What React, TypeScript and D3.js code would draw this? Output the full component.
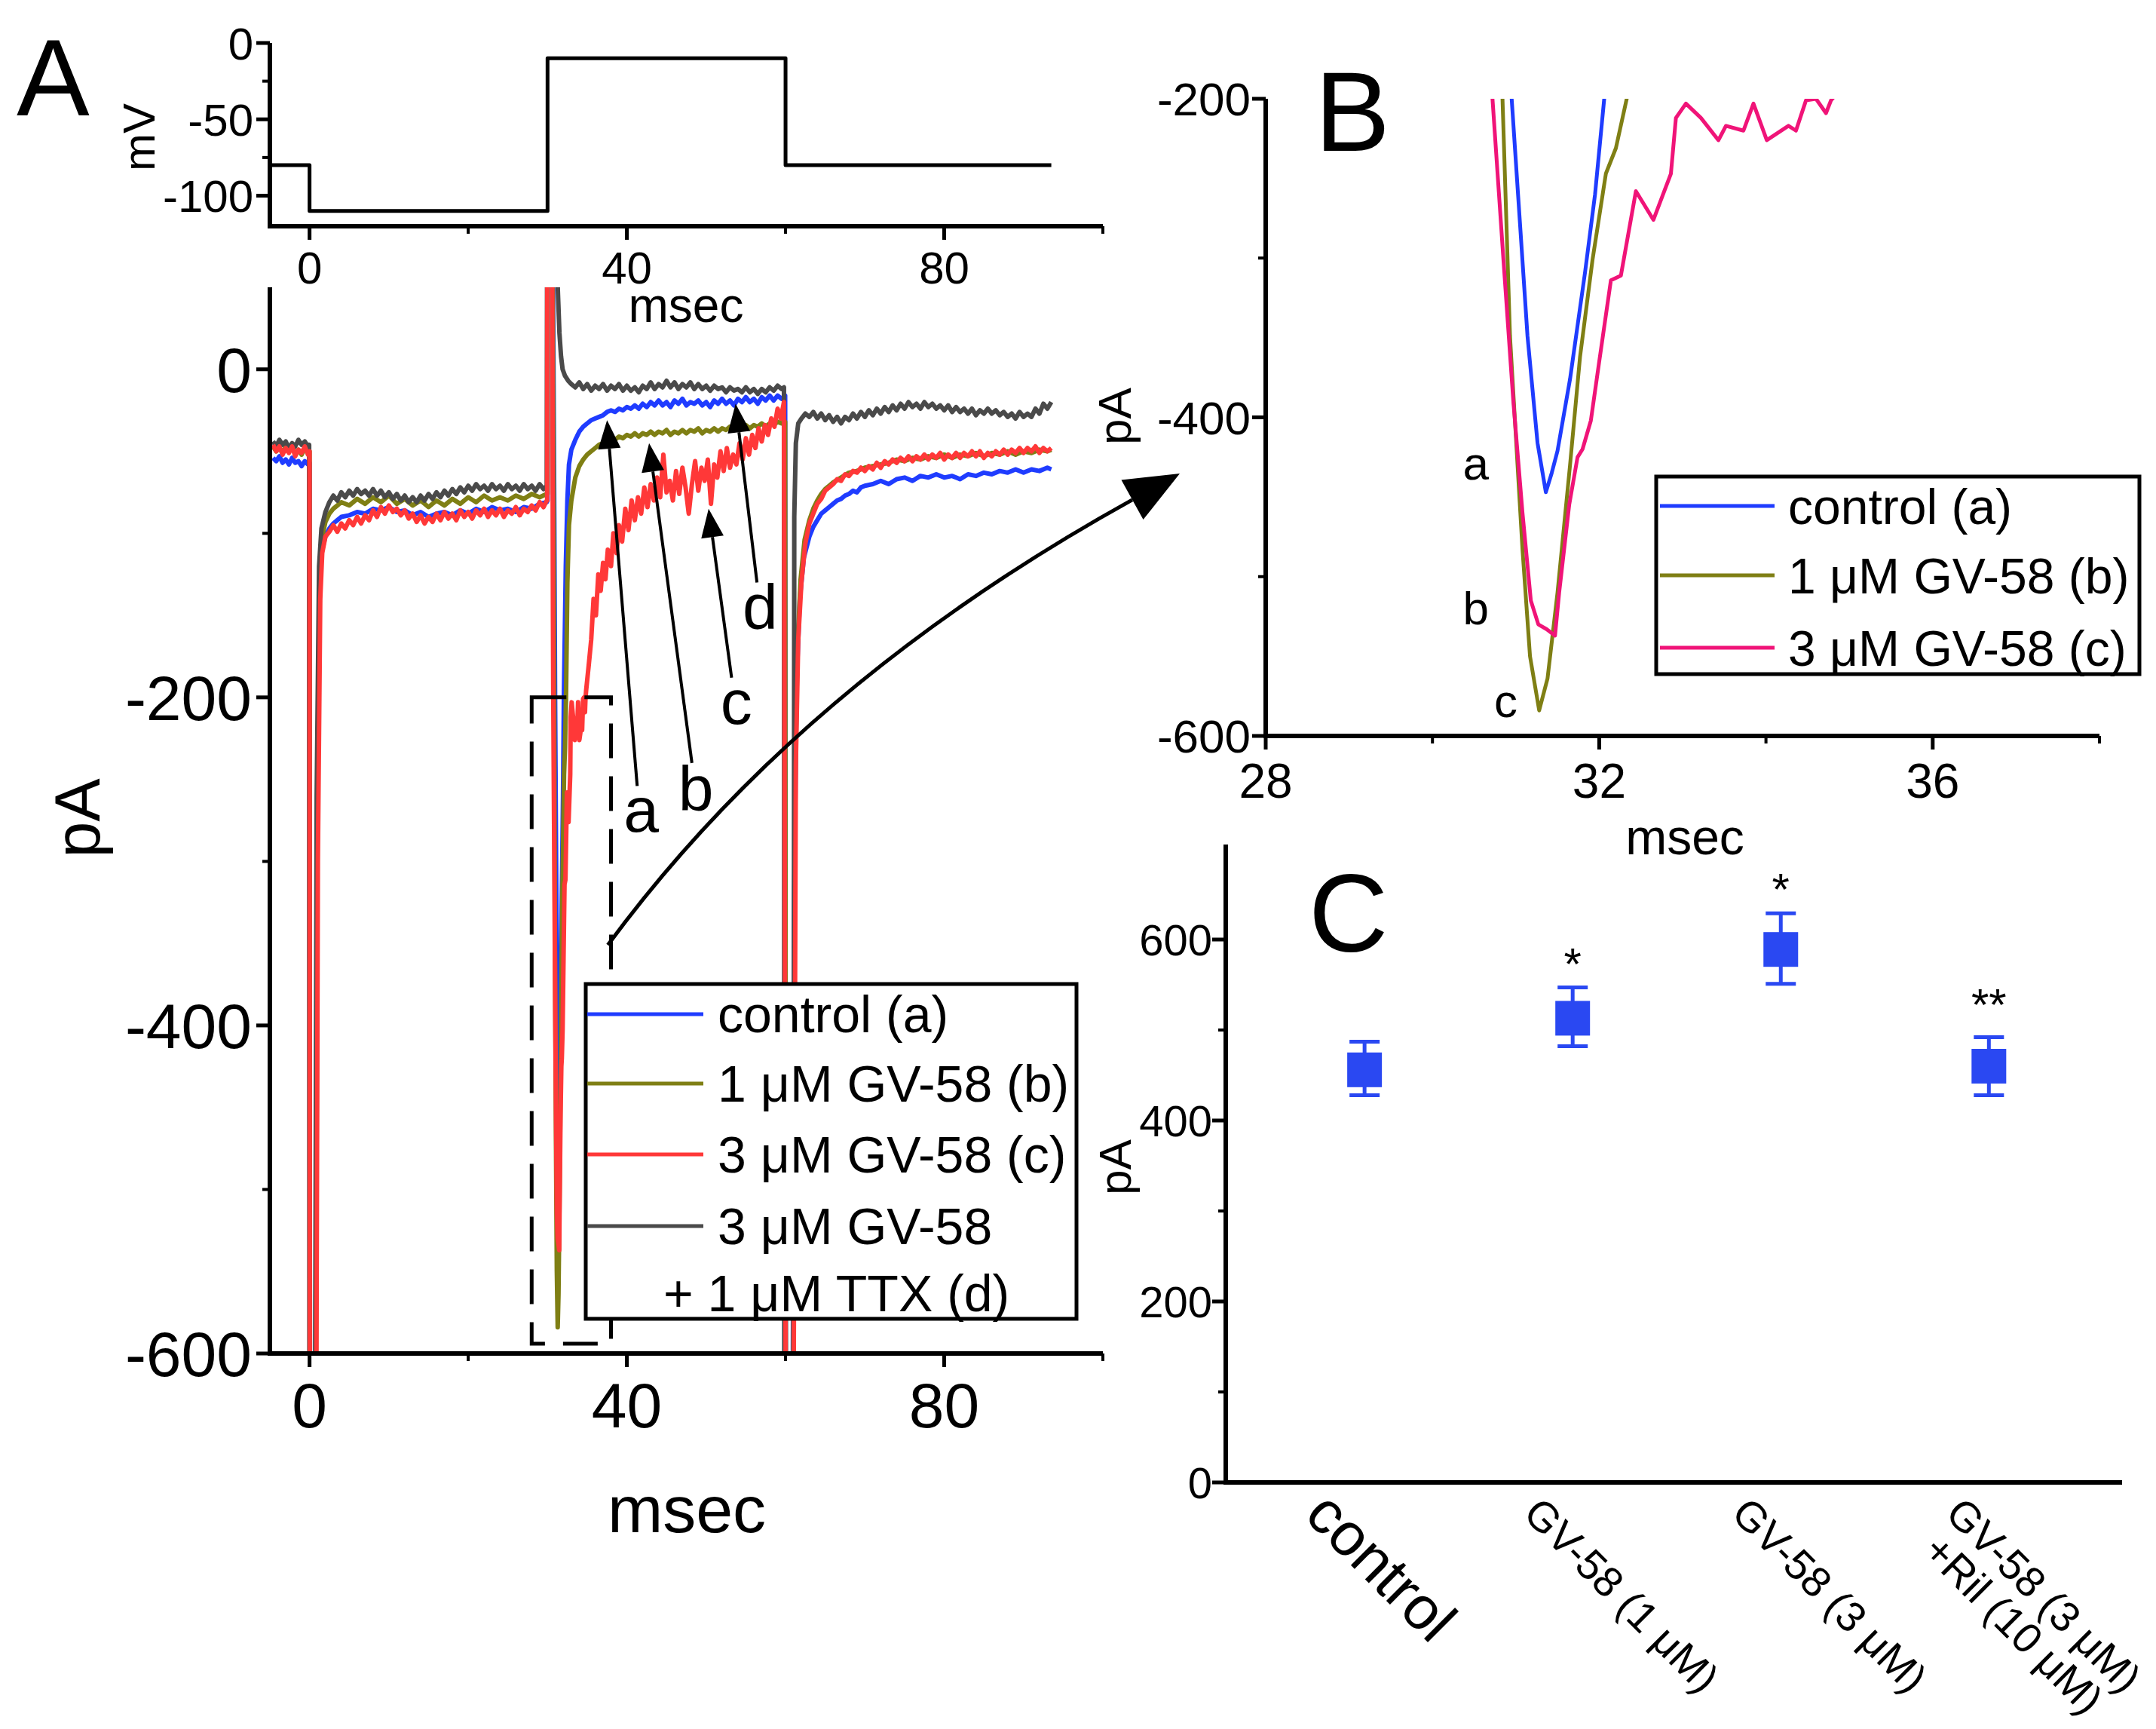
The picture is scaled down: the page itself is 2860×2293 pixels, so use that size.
import * as d3 from 'd3'

type Pt = [number, number]

// ---------- voltage protocol (top of A) ----------
const protocolTime = [-5, 0, 0, 30, 30, 60, 60, 93.5]
const protocolMv = [-80, -80, -110, -110, -10, -10, -80, -80]

// ---------- current traces (msec, pA) ----------
// control (a)
const controlPre: Pt[] = [[-4.6,-54],[-4.2,-56],[-3.8,-53],[-3.4,-57],[-3,-55],[-2.6,-58],[-2.2,-54],[-1.8,-57],[-1.4,-56],[-1,-59],[-0.6,-56],[-0.2,-58],[0,-57]]
const controlHyp: Pt[] = [[0.05,-720],[0.7,-720],[0.95,-300],[1.2,-150],[1.5,-112],[2,-102],[2.5,-97],[3,-94],[3.5,-92],[4,-90],[5,-89],[6,-87],[7,-88],[8,-85],[9,-86],[10,-84],[11,-87],[12,-86],[13,-89],[14,-87],[15,-90],[16,-88],[17,-87],[18,-89],[19,-86],[20,-88],[21,-85],[22,-87],[23,-84],[24,-86],[25,-85],[26,-87],[27,-84],[28,-85],[29,-82],[29.9,-81]]
const controlOn: Pt[] = [[30.0,-80],[30.08,400],[30.45,400],[30.7,50],[30.85,-90]]
const controlPeak: Pt[] = [[30.95,-200],[31.14,-349],[31.26,-416],[31.36,-447],[31.43,-435],[31.5,-421],[31.65,-376],[31.83,-309],[31.95,-260],[32.06,-200]]
const controlStep: Pt[] = [[32.3,-120],[32.5,-80],[32.7,-58],[33,-49],[33.5,-43],[34,-38],[34.5,-35],[35,-33],[35.5,-31],[36,-30],[36.5,-29],[37,-28],[37.5,-26],[38,-25],[38.5,-26],[39,-24],[39.5,-25],[40,-23],[40.5,-24],[41,-22],[41.5,-24],[42,-21],[42.5,-23],[43,-20],[43.5,-22],[44,-19],[44.5,-22],[45,-20],[45.5,-23],[46,-19],[46.5,-21],[47,-18],[47.5,-22],[48,-20],[48.5,-21],[49,-19],[49.5,-22],[50,-20],[50.5,-23],[51,-19],[51.5,-21],[52,-18],[52.5,-21],[53,-19],[53.5,-22],[54,-18],[54.5,-20],[55,-17],[55.5,-20],[56,-18],[56.5,-21],[57,-17],[57.5,-19],[58,-16],[58.5,-19],[59,-16],[59.5,-18],[59.95,-16]]
const controlTail: Pt[] = [[60.05,-720],[60.85,-720],[61.1,-320],[61.4,-190],[61.8,-140],[62.3,-115],[63,-102],[63.5,-96],[64,-92],[64.5,-88],[65,-86],[65.5,-84],[66,-82],[66.5,-80],[67,-79],[67.5,-77],[68,-76],[68.5,-74],[69,-75],[69.5,-72],[70,-71],[71,-70],[72,-68],[73,-70],[74,-67],[75,-66],[76,-68],[77,-65],[78,-66],[79,-64],[80,-66],[81,-65],[82,-67],[83,-64],[84,-65],[85,-63],[86,-64],[87,-62],[88,-63],[89,-61],[90,-63],[91,-61],[92,-62],[93,-60],[93.5,-61]]

// 1 uM GV-58 (b)
const gv1Pre: Pt[] = [[-4.6,-47],[-4.2,-50],[-3.8,-48],[-3.4,-51],[-3,-47],[-2.6,-50],[-2.2,-48],[-1.8,-51],[-1.4,-49],[-1,-52],[-0.6,-48],[-0.2,-50],[0,-50]]
const gv1Hyp: Pt[] = [[0.05,-720],[0.75,-720],[1.0,-280],[1.3,-130],[1.6,-102],[2,-93],[2.5,-88],[3,-85],[3.5,-83],[4,-81],[5,-83],[6,-79],[7,-82],[8,-78],[9,-81],[10,-77],[11,-82],[12,-79],[13,-83],[14,-80],[15,-84],[16,-80],[17,-83],[18,-79],[19,-82],[20,-78],[21,-81],[22,-77],[23,-80],[24,-78],[25,-80],[26,-77],[27,-79],[28,-76],[29,-78],[29.9,-76]]
const gv1On: Pt[] = [[30.0,-76],[30.08,400],[30.45,400],[30.65,60],[30.78,-100]]
const gv1Peak: Pt[] = [[30.84,-200],[30.93,-349],[31.08,-483],[31.17,-550],[31.28,-584],[31.38,-564],[31.5,-510],[31.65,-430],[31.77,-362],[31.92,-301],[32.08,-247],[32.2,-231],[32.33,-200]]
const gv1Step: Pt[] = [[32.5,-130],[32.7,-95],[33,-80],[33.5,-66],[34,-59],[34.5,-55],[35,-52],[35.5,-50],[36,-48],[36.5,-46],[37,-45],[37.5,-43],[38,-42],[38.5,-43],[39,-41],[39.5,-42],[40,-40],[40.5,-41],[41,-39],[41.5,-41],[42,-39],[42.5,-40],[43,-38],[43.5,-40],[44,-38],[44.5,-39],[45,-37],[45.5,-40],[46,-38],[46.5,-39],[47,-37],[47.5,-39],[48,-37],[48.5,-38],[49,-36],[49.5,-39],[50,-37],[50.5,-38],[51,-36],[51.5,-38],[52,-36],[52.5,-37],[53,-35],[53.5,-37],[54,-35],[54.5,-36],[55,-34],[55.5,-36],[56,-34],[56.5,-35],[57,-33],[57.5,-35],[58,-33],[58.5,-34],[59,-32],[59.5,-33],[59.95,-32]]
const gv1Tail: Pt[] = [[60.05,-720],[60.9,-720],[61.2,-260],[61.5,-170],[61.9,-128],[62.4,-104],[63,-92],[63.5,-85],[64,-80],[64.5,-76],[65,-73],[65.5,-71],[66,-69],[67,-66],[68,-63],[69,-62],[70,-60],[71,-59],[72,-58],[73,-57],[74,-55],[75,-56],[76,-54],[77,-55],[78,-53],[79,-54],[80,-52],[81,-54],[82,-52],[83,-53],[84,-51],[85,-53],[86,-51],[87,-52],[88,-50],[89,-52],[90,-50],[91,-51],[92,-49],[93,-50],[93.5,-49]]

// 3 uM GV-58 (c)
const gv3Pre: Pt[] = [[-4.6,-46],[-4.2,-50],[-3.8,-47],[-3.4,-52],[-3,-48],[-2.6,-51],[-2.2,-47],[-1.8,-53],[-1.4,-49],[-1,-51],[-0.6,-47],[-0.2,-52],[0,-50]]
const gv3Hyp: Pt[] = [[0.05,-720],[0.8,-720],[1.05,-300],[1.35,-140],[1.6,-112],[2,-102],[2.5,-99],[3,-95],[3.5,-99],[4,-94],[4.5,-97],[5,-92],[5.5,-95],[6,-90],[6.5,-94],[7,-89],[7.5,-92],[8,-86],[8.5,-90],[9,-84],[9.5,-88],[10,-83],[10.5,-87],[11,-85],[11.5,-89],[12,-86],[12.5,-91],[13,-88],[13.5,-93],[14,-89],[14.5,-94],[15,-90],[15.5,-93],[16,-88],[16.5,-92],[17,-87],[17.5,-91],[18,-88],[18.5,-92],[19,-86],[19.5,-90],[20,-87],[20.5,-91],[21,-86],[21.5,-89],[22,-85],[22.5,-90],[23,-86],[23.5,-89],[24,-85],[24.5,-90],[25,-86],[25.5,-88],[26,-84],[26.5,-89],[27,-85],[27.5,-87],[28,-83],[28.5,-86],[29,-81],[29.5,-84],[29.9,-80]]
const gv3On: Pt[] = [[29.95,-80],[30.0,400],[30.4,400],[30.6,40],[30.68,-150]]
const gv3Peak: Pt[] = [[30.72,-200],[30.85,-300],[30.97,-390],[31.08,-460],[31.18,-515],[31.27,-530],[31.37,-533],[31.47,-537],[31.52,-510],[31.64,-455],[31.74,-425],[31.8,-420],[31.9,-402],[32.0,-365],[32.14,-314],[32.26,-311],[32.44,-258],[32.65,-276],[32.86,-247],[32.92,-212],[33.04,-203],[33.22,-212],[33.43,-226],[33.52,-217],[33.73,-220],[33.85,-203],[34.01,-226],[34.27,-217],[34.36,-220],[34.48,-201],[34.6,-200],[34.72,-209],[34.78,-201],[34.86,-196]]
const gv3Step: Pt[] = [[35.2,-180],[35.5,-165],[35.8,-140],[36.1,-150],[36.4,-125],[36.7,-135],[37,-118],[37.3,-128],[37.6,-110],[38,-120],[38.3,-100],[38.7,-112],[39,-95],[39.4,-105],[39.8,-85],[40.2,-98],[40.6,-80],[41,-92],[41.4,-78],[41.8,-88],[42.2,-72],[42.6,-84],[43,-70],[43.4,-80],[43.8,-66],[44.2,-78],[44.6,-52],[45,-75],[45.4,-68],[45.8,-80],[46.2,-62],[46.6,-76],[47,-60],[47.4,-72],[47.8,-88],[48.2,-70],[48.6,-56],[49,-74],[49.4,-60],[49.8,-68],[50.2,-55],[50.6,-82],[51,-58],[51.4,-66],[51.8,-50],[52.2,-62],[52.6,-48],[53,-60],[53.4,-52],[53.8,-58],[54.2,-45],[54.6,-55],[55,-42],[55.4,-52],[55.8,-40],[56.2,-48],[56.6,-36],[57,-44],[57.4,-34],[57.8,-40],[58.2,-30],[58.6,-35],[59,-24],[59.4,-30],[59.8,-20]]
const gv3Tail: Pt[] = [[60.05,-720],[60.95,-720],[61.3,-240],[61.6,-165],[62,-130],[62.5,-106],[63,-94],[63.5,-88],[64,-82],[64.5,-79],[65,-74],[65.5,-72],[66,-70],[66.5,-67],[67,-68],[67.5,-64],[68,-65],[68.5,-62],[69,-63],[69.5,-60],[70,-62],[70.5,-59],[71,-61],[71.5,-57],[72,-60],[72.5,-56],[73,-58],[73.5,-55],[74,-57],[74.5,-54],[75,-56],[75.5,-53],[76,-56],[76.5,-53],[77,-55],[77.5,-52],[78,-55],[78.5,-52],[79,-54],[79.5,-51],[80,-55],[80.5,-52],[81,-54],[81.5,-51],[82,-54],[82.5,-51],[83,-53],[83.5,-50],[84,-53],[84.5,-50],[85,-54],[85.5,-51],[86,-53],[86.5,-50],[87,-52],[87.5,-49],[88,-52],[88.5,-49],[89,-51],[89.5,-48],[90,-51],[90.5,-48],[91,-50],[91.5,-47],[92,-51],[92.5,-48],[93,-50],[93.5,-48]]

// 3 uM GV-58 + 1 uM TTX (d)
const ttxPre: Pt[] = [[-4.6,-44],[-4.2,-47],[-3.8,-43],[-3.4,-46],[-3,-44],[-2.6,-48],[-2.2,-45],[-1.8,-47],[-1.4,-43],[-1,-46],[-0.6,-44],[-0.2,-47],[-0.05,-46]]
const ttxHyp: Pt[] = [[-0.02,-720],[0.65,-720],[0.9,-260],[1.2,-120],[1.5,-97],[2,-87],[2.5,-81],[3,-77],[3.5,-80],[4,-75],[4.5,-78],[5,-74],[5.5,-77],[6,-73],[6.5,-76],[7,-74],[7.5,-77],[8,-73],[8.5,-77],[9,-74],[9.5,-78],[10,-75],[10.5,-79],[11,-76],[11.5,-80],[12,-77],[12.5,-81],[13,-78],[13.5,-81],[14,-77],[14.5,-80],[15,-76],[15.5,-79],[16,-75],[16.5,-78],[17,-74],[17.5,-77],[18,-73],[18.5,-76],[19,-72],[19.5,-75],[20,-71],[20.5,-74],[21,-70],[21.5,-73],[22,-71],[22.5,-74],[23,-70],[23.5,-73],[24,-71],[24.5,-74],[25,-70],[25.5,-73],[26,-71],[26.5,-74],[27,-70],[27.5,-73],[28,-71],[28.5,-74],[29,-70],[29.5,-73],[29.9,-71]]
const ttxStep: Pt[] = [[30.05,400],[30.9,400],[31.1,120],[31.3,48],[31.5,22],[31.7,8],[31.9,0],[32.2,-4],[32.6,-7],[33,-9],[33.5,-11],[34,-8],[34.5,-12],[35,-9],[35.5,-13],[36,-10],[36.5,-12],[37,-9],[37.5,-13],[38,-10],[38.5,-12],[39,-9],[39.5,-13],[40,-10],[40.5,-13],[41,-11],[41.5,-14],[42,-10],[42.5,-12],[43,-8],[43.5,-12],[44,-9],[44.5,-11],[45,-7],[45.5,-11],[46,-8],[46.5,-12],[47,-9],[47.5,-11],[48,-8],[48.5,-12],[49,-9],[49.5,-12],[50,-10],[50.5,-13],[51,-10],[51.5,-12],[52,-11],[52.5,-14],[53,-11],[53.5,-13],[54,-12],[54.5,-14],[55,-11],[55.5,-14],[56,-12],[56.5,-15],[57,-12],[57.5,-14],[58,-11],[58.5,-13],[59,-10],[59.5,-12],[59.8,-11]]
const ttxTail: Pt[] = [[59.85,-720],[61.0,-720],[61.1,-90],[61.3,-45],[61.6,-33],[62,-30],[62.5,-27],[63,-29],[63.5,-26],[64,-30],[64.5,-27],[65,-31],[65.5,-28],[66,-32],[66.5,-29],[67,-33],[67.5,-29],[68,-31],[68.5,-27],[69,-30],[69.5,-26],[70,-29],[70.5,-25],[71,-28],[71.5,-24],[72,-27],[72.5,-23],[73,-26],[73.5,-22],[74,-25],[74.5,-21],[75,-24],[75.5,-20],[76,-23],[76.5,-21],[77,-24],[77.5,-20],[78,-23],[78.5,-21],[79,-24],[79.5,-22],[80,-25],[80.5,-22],[81,-26],[81.5,-23],[82,-26],[82.5,-24],[83,-27],[83.5,-24],[84,-28],[84.5,-25],[85,-27],[85.5,-24],[86,-27],[86.5,-25],[87,-28],[87.5,-26],[88,-29],[88.5,-27],[89,-30],[89.5,-26],[90,-29],[90.5,-27],[91,-29],[91.5,-24],[92,-27],[92.5,-21],[93,-24],[93.5,-20]]

// ---------- annotations on A (msec, pA) ----------
const arrowLetters = ['a', 'b', 'c', 'd']
const arrowTips: Pt[] = [[37.5, -31], [42.8, -45], [50.3, -85], [53.7, -21]]
const arrowTails: Pt[] = [[41.3, -254], [48.2, -240], [53.2, -188], [56.4, -130]]
const letterSpots: Pt[] = [[41.8, -272], [48.7, -259], [53.8, -206], [56.8, -148]]
const zoomBox = { t0: 28, t1: 38, i0: -594, i1: -200 }

// ---------- panel B letters ----------
const peakLetters = ['a', 'b', 'c']
const peakLetterSpots: Pt[] = [[30.52, -439], [30.52, -530], [30.88, -588]]

// ---------- legends ----------
const legendA = ['control (a)', '1 μM GV-58 (b)', '3 μM GV-58 (c)', '3 μM GV-58', '+ 1 μM TTX (d)']
const legendB = ['control (a)', '1 μM GV-58 (b)', '3 μM GV-58 (c)']

// ---------- panel C ----------
const groups = ['control', 'GV-58 (1 μM)', 'GV-58 (3 μM)', 'GV-58 (3 μM)|+Ril (10 μM)']
const peakMean = [456, 513, 589, 460]
const peakHigh = [487, 547, 629, 492]
const peakLow = [428, 482, 551, 428]
const starText = ['', '*', '*', '**']
const starLevel = [0, 556, 638, 511]

const BLUE = '#1f3cff'
const OLIVE = '#7f7f14'
const RED = '#ff3838'
const GRAY = '#4a4a4a'
const PINK = '#f01478'
const CBLUE = '#2a48f2'
const FONT = 'Liberation Sans, Arial, Helvetica, sans-serif'

const controlTrace = [...controlPre, ...controlHyp, ...controlOn, ...controlPeak, ...controlStep, ...controlTail]
const gv1Trace = [...gv1Pre, ...gv1Hyp, ...gv1On, ...gv1Peak, ...gv1Step, ...gv1Tail]
const gv3Trace = [...gv3Pre, ...gv3Hyp, ...gv3On, ...gv3Peak, ...gv3Step, ...gv3Tail]
const ttxTrace = [...ttxPre, ...ttxHyp, ...ttxStep, ...ttxTail]

function Trace({ data, x, y, color, width = 5, clip }: {
  data: Pt[]
  x: d3.ScaleLinear<number, number>
  y: d3.ScaleLinear<number, number>
  color: string
  width?: number
  clip?: string
}) {
  const line = d3.line<Pt>().x((d) => x(d[0])).y((d) => y(d[1]))
  return (
    <path
      d={line(data) ?? ''}
      fill="none"
      stroke={color}
      strokeWidth={width}
      strokeLinejoin="round"
      clipPath={clip ? `url(#${clip})` : undefined}
    />
  )
}

function LeftAxis({ y, x0, top, major, minor, fontSize, gap = 22 }: {
  y: d3.ScaleLinear<number, number>
  x0: number
  top: number
  major: number[]
  minor: number[]
  fontSize: number
  gap?: number
}) {
  const [lo] = y.domain()
  return (
    <g>
      <line x1={x0} x2={x0} y1={y(top)} y2={y(lo) + 3} stroke="#000" strokeWidth={6} />
      {major.map((v) => (
        <g key={`M${v}`}>
          <line x1={x0 - 18} x2={x0} y1={y(v)} y2={y(v)} stroke="#000" strokeWidth={5} />
          <text x={x0 - gap} y={y(v)} dy="0.36em" textAnchor="end" fontSize={fontSize}>{v}</text>
        </g>
      ))}
      {minor.map((v) => (
        <line key={`m${v}`} x1={x0 - 10} x2={x0} y1={y(v)} y2={y(v)} stroke="#000" strokeWidth={4} />
      ))}
    </g>
  )
}

function BottomAxis({ x, y0, major, minor, fontSize, labelY }: {
  x: d3.ScaleLinear<number, number>
  y0: number
  major: number[]
  minor: number[]
  fontSize: number
  labelY: number
}) {
  const [a, b] = x.domain()
  return (
    <g>
      <line x1={x(a) - 3} x2={x(b)} y1={y0} y2={y0} stroke="#000" strokeWidth={6} />
      {major.map((v) => (
        <g key={`M${v}`}>
          <line x1={x(v)} x2={x(v)} y1={y0} y2={y0 + 18} stroke="#000" strokeWidth={5} />
          <text x={x(v)} y={labelY} textAnchor="middle" fontSize={fontSize}>{v}</text>
        </g>
      ))}
      {minor.map((v) => (
        <line key={`m${v}`} x1={x(v)} x2={x(v)} y1={y0} y2={y0 + 10} stroke="#000" strokeWidth={4} />
      ))}
    </g>
  )
}

function Arrow({ x1, y1, x2, y2, head = 38, half = 15, width = 4 }: {
  x1: number; y1: number; x2: number; y2: number; head?: number; half?: number; width?: number
}) {
  const dx = x2 - x1
  const dy = y2 - y1
  const len = Math.hypot(dx, dy)
  const ux = dx / len
  const uy = dy / len
  const bx = x2 - ux * head
  const by = y2 - uy * head
  const pts = [
    [x2, y2],
    [bx - uy * half, by + ux * half],
    [bx + uy * half, by - ux * half],
  ]
  return (
    <g>
      <line x1={x1} y1={y1} x2={bx} y2={by} stroke="#000" strokeWidth={width} />
      <polygon points={pts.map((p) => p.join(',')).join(' ')} fill="#000" />
    </g>
  )
}

export default function App() {
  const width = 2860
  const height = 2293

  // panel A
  const xA = d3.scaleLinear().domain([-5, 100]).range([358, 1463])
  const yTop = d3.scaleLinear().domain([-120, 0]).range([300, 57])
  const yA = d3.scaleLinear().domain([-600, 50]).range([1795, 381])
  // panel B
  const xB = d3.scaleLinear().domain([28, 38]).range([1679, 2785])
  const yB = d3.scaleLinear().domain([-600, -200]).range([976, 131])
  // panel C
  const xC = d3.scaleLinear().domain([0.333, 4.64]).range([1626, 2815])
  const yC = d3.scaleLinear().domain([0, 700]).range([1966, 1126])

  const protocol: Pt[] = protocolTime.map((t, i) => [t, protocolMv[i]])

  // curved arrow from the dashed box to panel B
  const cStart = { x: xA(37.6), y: yA(-351) }
  const cCtrl = { x: 1061, y: 907 }
  const cTip = { x: 1565, y: 628 }
  const cdx = cTip.x - cCtrl.x
  const cdy = cTip.y - cCtrl.y
  const cl = Math.hypot(cdx, cdy)
  const cux = cdx / cl
  const cuy = cdy / cl
  const cBase = { x: cTip.x - cux * 72, y: cTip.y - cuy * 72 }
  const cHead = [
    [cTip.x, cTip.y],
    [cBase.x - cuy * 30, cBase.y + cux * 30],
    [cBase.x + cuy * 30, cBase.y - cux * 30],
  ]

  const legendColorsA = [BLUE, OLIVE, RED, GRAY]
  const legendRowsA = [1345, 1437, 1531, 1626, 1715]
  const legendColorsB = [BLUE, OLIVE, PINK]
  const legendRowsB = [671, 763, 859]

  return (
    <>
      <style>{'body{margin:0;background:#fff}'}</style>
      <svg width={width} height={height} viewBox={`0 0 ${width} ${height}`} style={{ display: 'block' }} fontFamily={FONT}>
        <defs>
          <clipPath id="clipA">
            <rect x={xA(-5)} y={yA(50)} width={xA(100) - xA(-5)} height={yA(-600) - yA(50)} />
          </clipPath>
          <clipPath id="clipB">
            <rect x={xB(28)} y={yB(-200)} width={xB(38) - xB(28)} height={yB(-600) - yB(-200)} />
          </clipPath>
        </defs>
        <rect width={width} height={height} fill="#fff" />

        {/* ---------------- Panel A: voltage protocol ---------------- */}
        <text x={22} y={153} fontSize={145}>A</text>
        <Trace data={protocol} x={xA} y={yTop} color="#000" width={5} />
        <LeftAxis y={yTop} x0={xA(-5)} top={0} major={[0, -50, -100]} minor={[-25, -75]} fontSize={60} />
        <BottomAxis x={xA} y0={yTop(-120)} major={[0, 40, 80]} minor={[20, 60, 100]} fontSize={60} labelY={376} />
        <text transform={`translate(205,182) rotate(-90)`} textAnchor="middle" fontSize={60}>mV</text>
        <text x={910} y={427} textAnchor="middle" fontSize={64}>msec</text>

        {/* ---------------- Panel A: currents ---------------- */}
        <Trace data={controlTrace} x={xA} y={yA} color={BLUE} width={6} clip="clipA" />
        <Trace data={gv1Trace} x={xA} y={yA} color={OLIVE} width={6} clip="clipA" />
        <Trace data={ttxTrace} x={xA} y={yA} color={GRAY} width={6} clip="clipA" />
        <Trace data={gv3Trace} x={xA} y={yA} color={RED} width={6} clip="clipA" />

        <LeftAxis y={yA} x0={xA(-5)} top={50} major={[0, -200, -400, -600]} minor={[-100, -300, -500]} fontSize={84} gap={24} />
        <BottomAxis x={xA} y0={yA(-600)} major={[0, 40, 80]} minor={[20, 60, 100]} fontSize={84} labelY={1893} />
        <text transform={`translate(132,1085) rotate(-90)`} textAnchor="middle" fontSize={86}>pA</text>
        <text x={911} y={2032} textAnchor="middle" fontSize={88}>msec</text>

        <rect
          x={xA(zoomBox.t0)}
          y={yA(zoomBox.i1)}
          width={xA(zoomBox.t1) - xA(zoomBox.t0)}
          height={yA(zoomBox.i0) - yA(zoomBox.i1)}
          fill="none"
          stroke="#000"
          strokeWidth={5}
          strokeDasharray="46 24"
        />

        {arrowLetters.map((letter, i) => (
          <g key={letter}>
            <Arrow x1={xA(arrowTails[i][0])} y1={yA(arrowTails[i][1])} x2={xA(arrowTips[i][0])} y2={yA(arrowTips[i][1])} />
            <text x={xA(letterSpots[i][0])} y={yA(letterSpots[i][1]) + 22} textAnchor="middle" fontSize={84}>{letter}</text>
          </g>
        ))}

        <rect x={777} y={1305} width={651} height={444} fill="#fff" stroke="#000" strokeWidth={5} />
        {legendA.map((label, i) => (
          <g key={label}>
            {i < 4 && <line x1={779} x2={933} y1={legendRowsA[i]} y2={legendRowsA[i]} stroke={legendColorsA[i]} strokeWidth={5} />}
            <text x={i < 4 ? 952 : 880} y={legendRowsA[i]} dy="0.36em" fontSize={68}>{label}</text>
          </g>
        ))}

        {/* curved arrow to B */}
        <path d={`M${cStart.x},${cStart.y} Q${cCtrl.x},${cCtrl.y} ${cBase.x},${cBase.y}`} fill="none" stroke="#000" strokeWidth={5} />
        <polygon points={cHead.map((p) => p.join(',')).join(' ')} fill="#000" />

        {/* ---------------- Panel B ---------------- */}
        <text x={1744} y={200} fontSize={150}>B</text>
        <Trace data={controlTrace} x={xB} y={yB} color={BLUE} clip="clipB" />
        <Trace data={gv1Trace} x={xB} y={yB} color={OLIVE} clip="clipB" />
        <Trace data={gv3Trace} x={xB} y={yB} color={PINK} clip="clipB" />
        <LeftAxis y={yB} x0={xB(28)} top={-200} major={[-200, -400, -600]} minor={[-300, -500]} fontSize={62} gap={20} />
        <BottomAxis x={xB} y0={yB(-600)} major={[28, 32, 36]} minor={[30, 34, 38]} fontSize={64} labelY={1058} />
        <text transform={`translate(1500,552) rotate(-90)`} textAnchor="middle" fontSize={62}>pA</text>
        <text x={2235} y={1133} textAnchor="middle" fontSize={66}>msec</text>
        {peakLetters.map((letter, i) => (
          <text key={letter} x={xB(peakLetterSpots[i][0])} y={yB(peakLetterSpots[i][1])} textAnchor="middle" fontSize={62}>{letter}</text>
        ))}
        <rect x={2197} y={632} width={641} height={262} fill="#fff" stroke="#000" strokeWidth={5} />
        {legendB.map((label, i) => (
          <g key={label}>
            <line x1={2202} x2={2354} y1={legendRowsB[i]} y2={legendRowsB[i]} stroke={legendColorsB[i]} strokeWidth={5} />
            <text x={2372} y={legendRowsB[i]} dy="0.36em" fontSize={66}>{label}</text>
          </g>
        ))}

        {/* ---------------- Panel C ---------------- */}
        <text x={1736} y={1262} fontSize={146}>C</text>
        <LeftAxis y={yC} x0={xC(0.333)} top={705} major={[0, 200, 400, 600]} minor={[100, 300, 500]} fontSize={58} gap={18} />
        <line x1={xC(0.333) - 3} x2={xC(4.64)} y1={yC(0)} y2={yC(0)} stroke="#000" strokeWidth={6} />
        <text transform={`translate(1500,1548) rotate(-90)`} textAnchor="middle" fontSize={60}>pA</text>
        {groups.map((g, i) => {
          const cx = xC(i + 1)
          const lines = g.split('|')
          const big = i === 0
          const ox = big ? -82 : i === 3 ? -60 : -68
          return (
            <g key={g}>
              <line x1={cx} x2={cx} y1={yC(peakLow[i])} y2={yC(peakHigh[i])} stroke={CBLUE} strokeWidth={5} />
              <line x1={cx - 20} x2={cx + 20} y1={yC(peakLow[i])} y2={yC(peakLow[i])} stroke={CBLUE} strokeWidth={5} />
              <line x1={cx - 20} x2={cx + 20} y1={yC(peakHigh[i])} y2={yC(peakHigh[i])} stroke={CBLUE} strokeWidth={5} />
              <rect x={cx - 23} y={yC(peakMean[i]) - 23} width={46} height={46} fill={CBLUE} />
              {starText[i] && (
                <text x={cx} y={yC(starLevel[i])} textAnchor="middle" fontSize={60}>{starText[i]}</text>
              )}
              <text
                transform={`translate(${cx + ox},${yC(0) + (big ? 46 : 44)}) rotate(45)`}
                fontSize={big ? 80 : 56}
              >
                {lines.map((ln, j) => (
                  <tspan key={ln} x={j === 0 ? 0 : 14} dy={j === 0 ? 0 : '1em'}>{ln}</tspan>
                ))}
              </text>
            </g>
          )
        })}
      </svg>
    </>
  )
}
